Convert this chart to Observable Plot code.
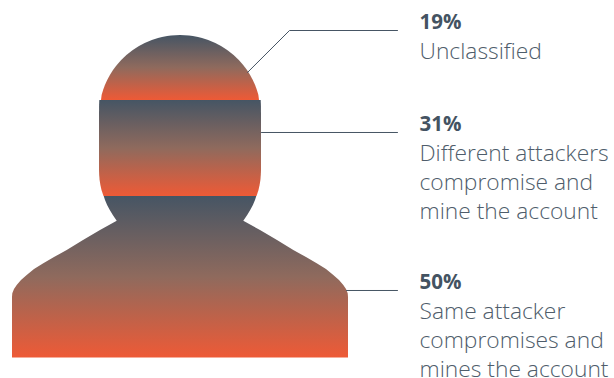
<!DOCTYPE html>
<html>
<head>
<meta charset="utf-8">
<style>
  html, body { margin: 0; padding: 0; background: #fff; }
  svg { display: block; }
</style>
<script src="https://cdn.jsdelivr.net/npm/d3@7"></script>
<script src="https://cdn.jsdelivr.net/npm/@observablehq/plot@0.6"></script>
</head>
<body>
<script>
// Share of accounts per group, stacked from the crown of the head downward.
const shares = [19, 31, 50];
const percentLabels = ["19%", "31%", "50%"];
const descriptions = [
  "Unclassified",
  "Different attackers\ncompromise and\nmine the account",
  "Same attacker\ncompromises and\nmines the account"
];

// Silhouette outline for each group: distance down the band (% of the band)
// and half-width of the figure at that distance.
const headDepth = [0, 0.77, 1.54, 3.08, 4.62, 7.69, 12.3, 16.9, 23.1, 30.8, 38.5, 46.2, 53.8, 61.5, 69.2, 76.9, 84.6, 92.3, 100];
const headHalfWidth = [0, 9, 12.8, 18, 22, 28.2, 35.3, 41, 47.2, 53.6, 58.8, 63.2, 67, 70.1, 72.8, 75.1, 76.9, 78.4, 79];
const faceDepth = [0, 5.2, 15.6, 72.9, 78.1, 83.3, 88.5, 93.8, 100];
const faceHalfWidth = [80.7, 80.9, 81, 81, 80.8, 80.4, 79.6, 78.5, 76.5];
const bodyDepth = [0, 2.5, 5.6, 8.7, 11.8, 15.3, 21.1, 27.2, 33.4, 37.8, 41.7, 45.2, 48.9, 52, 55.1, 57.6, 60.2, 62.5, 65.4, 100];
const bodyHalfWidth = [76.3, 75, 72.9, 70.2, 67.2, 63.3, 80, 97, 113.3, 126, 136.7, 146, 153.3, 159, 163.3, 166, 167.7, 168, 168, 168];

// Leader lines from the figure to each label, offset from the figure's centre line.
const leaderX = [[67, 109, 217], [81, 217], [166, 217]];
const leaderY = [[10.8, -1.46, -1.46], [29.33, 29.33], [79.1, 79.1]];
const labelX = 239;

const slate = "#465564";
const midTone = "#8f6a5d";
const coral = "#ee5a36";
const inkBold = "#445362";
const ink = "#4f5d6b";

// Cumulative start of each band on the shared depth scale.
const bandStart = d3.cumsum([0, ...shares.slice(0, -1)]);
const outlines = [[headDepth, headHalfWidth], [faceDepth, faceHalfWidth], [bodyDepth, bodyHalfWidth]];

const silhouette = outlines.flatMap(([depth, half], band) =>
  depth.map((d, i) => ({
    band,
    y: bandStart[band] + shares[band] * d / 100,
    left: -half[i],
    right: half[i]
  }))
);
const leaders = leaderX.flatMap((xs, band) =>
  xs.map((x, i) => ({band, x, y: leaderY[band][i]}))
);
const labels = shares.map((share, band) => ({
  y: leaderY[band][leaderY[band].length - 1],
  percent: percentLabels[band],
  text: descriptions[band]
}));

// Vertical fade shared by the three bands; each path gets its own full sweep.
const fadeDefs = () => {
  const defs = d3.create("svg:defs");
  const grad = defs.append("linearGradient")
    .attr("id", "band-fade")
    .attr("x1", 0).attr("y1", 0).attr("x2", 0).attr("y2", 1);
  grad.append("stop").attr("offset", "0%").attr("stop-color", slate);
  grad.append("stop").attr("offset", "50%").attr("stop-color", midTone);
  grad.append("stop").attr("offset", "100%").attr("stop-color", coral);
  return defs.node();
};

const bodyFont = "'Open Sans', Lato, sans-serif";

const figure = Plot.plot({
  width: 614,
  height: 378,
  margin: 0,
  style: {background: "#fff", fontFamily: bodyFont},
  x: {axis: null, domain: [-180, 434], range: [0, 614]},
  y: {axis: null, type: "linear", domain: [0, 19, 50, 100], range: [35, 100, 196, 357.5]},
  marks: [
    fadeDefs,
    Plot.areaX(silhouette, {y: "y", x1: "left", x2: "right", z: "band", fill: "url(#band-fade)"}),
    Plot.line(leaders, {x: "x", y: "y", z: "band", stroke: slate, strokeWidth: 1}),
    Plot.text(labels, {
      x: labelX, y: "y", text: "percent", textAnchor: "start", lineAnchor: "top",
      dy: -16, fontSize: 20.5, fontWeight: 700, fill: inkBold
    }),
    Plot.text(labels, {
      x: labelX, y: "y", text: "text", textAnchor: "start", lineAnchor: "top",
      dy: 8, fontSize: 22.8, fontWeight: 300, lineHeight: 1.263, fill: ink
    })
  ]
});
document.body.appendChild(figure);
</script>
</body>
</html>
